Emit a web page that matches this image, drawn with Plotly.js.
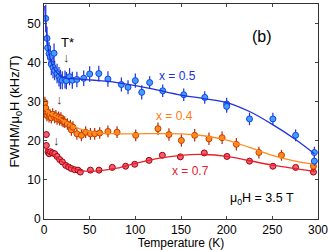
<!DOCTYPE html>
<html><head><meta charset="utf-8">
<script src="https://cdn.plot.ly/plotly-3.0.1.min.js"></script>
<style>html,body{margin:0;padding:0;background:#fff}#chart{width:332px;height:250px}</style>
</head><body><div id="chart"></div>
<script>
// x = 0.5 data
var tBlue = [1.9,3.3,4,5.5,7,8,9.9,11,11.7,14.3,16.4,17.9,20,23,24.5,28,31,36,43.5,50,60,70,84.7,92,100,107,115.7,130,153,176,200,200,225,250.6,275.5,296,296];
var vBlue = [51.3,46.2,43.8,42.3,41.5,39.6,38.8,42.4,38,37.2,36.4,35.7,35.5,35.7,35.4,36.4,35.5,35.7,36,37.1,37.2,35.8,34.4,33.7,35.4,32.4,34.9,32.8,31.8,31.1,29.4,28.8,25.6,25.6,21.4,17,14.8];
var eBlue = [3.5,3,3,3,2.8,2.8,2.8,2.5,2.5,2.5,2.5,2.5,2.3,2.3,2.2,2.2,2.2,2,2,2,2,2,1.8,1.8,1.8,1.8,1.6,1.6,1.6,1.6,1.6,1.6,1.6,1.6,1.5,1.5,1.2];
// x = 0.4 data
var tOrange = [1,1.9,2.5,3.3,4.5,5.5,6.5,8,9.5,11.7,13,14.3,16,17.2,18.5,19.7,21,22.7,25.6,28.9,30,31.7,36,41,45.6,50.8,55.5,61,70,80,100.4,124.8,136.8,150.4,165,180.6,195,210.6,235.3,260,295];
var vOrange = [29.8,28.4,27,26.5,27.2,26.2,26.6,25.9,26.8,26,26.4,25.6,26,25.4,25.8,25.2,25,24.8,24.3,23.9,22.8,23.5,21.8,21.4,22.2,21.8,21.8,22,22.4,22.2,21.4,23.1,21.6,20.1,21.4,20.5,20.8,19.1,17,16.3,13.5];
var eOrange = [1.5,1.5,1.5,1.5,1.5,1.5,1.5,1.5,1.5,1.5,1.5,1.5,1.5,1.5,1.5,1.5,1.5,1.5,1.5,1.5,1.5,1.5,1.5,1.5,1.5,1.5,1.5,1.5,1.5,1.5,1.5,1.6,1.6,1.6,1.6,1.6,1.6,1.6,1.5,1.4,1.2];
// x = 0.7 data
var tRed = [2.6,2.6,4.4,5.7,7,9.2,11.7,14.3,17.2,20.1,23.8,27,30,33.6,37.2,39.8,50.8,60.2,74.8,89.4,99.3,115,129.6,149.3,175.5,200.3,225,250.6,275.5,295];
var vRed = [21.6,18.8,17.1,16.7,17.2,16.9,16.7,16,15.2,14.6,13.7,13.3,12.9,12.6,12.5,12,12.5,12.5,13.2,13.5,14,15,16.3,15.9,16.9,16,14.8,13.5,13.2,12];
var eRed = [0.8,0.8,0.8,0.8,0.8,0.8,0.8,0.7,0.7,0.7,0.6,0.6,0.6,0.6,0.6,0.6,0.6,0.6,0.6,0.6,0.6,0.6,0.6,0.6,0.6,0.6,0.6,0.6,0.6,0.6];
// fit curves
var tFitBlue = [0.8,3,5,8,12,16,20,25,30,40,50,60,70,80,100,120,150,175,200,225,250,275,296];
var vFitBlue = [54.5,47,43,40,38,37,36.3,36,35.9,35.8,35.6,35.4,35.2,34.9,34.1,33.2,31.7,30.8,29.8,27.5,24.2,20.4,16.7];
var tFitOrange = [1,10,20,30,40,60,80,100,150,175,200,225,250,275,296];
var vFitOrange = [28,26.5,25.3,24,23,22,21.8,21.8,21.8,21.3,20.2,18.3,16.3,14.8,14];
var tFitRed = [1,10,20,30,40,50,60,80,100,125,150,175,200,225,250,275,296];
var vFitRed = [18,16.5,14.6,13.1,12.4,12.2,12.3,13,14.2,15.5,16.3,16.5,16,14.9,13.8,12.9,12.2];

var xTicks = [0,50,100,150,200,250,300];
var yTicks = [0,10,20,30,40,50];

function pts(x,y,e,fill,edge,bar){
  return {x:x,y:y,type:'scatter',mode:'markers',
    marker:{size:6,color:fill,line:{color:edge,width:1}},
    error_y:{type:'data',array:e,visible:true,color:bar,thickness:1.2,width:0},
    showlegend:false,hoverinfo:'skip'};
}
function fit(x,y,c){
  return {x:x,y:y,type:'scatter',mode:'lines',line:{color:c,width:1.3,shape:'spline'},showlegend:false,hoverinfo:'skip'};
}
var data = [
  pts(tRed,vRed,eRed,'#f0606e','#a00010','#a00010'),
  fit(tFitRed,vFitRed,'#e8202a'),
  pts(tOrange,vOrange,eOrange,'#ff8a1a','#c83a00','#b02a10'),
  fit(tFitOrange,vFitOrange,'#ff8a20'),
  pts(tBlue,vBlue,eBlue,'#3fa0ff','#1a40e0','#1a30e0'),
  fit(tFitBlue,vFitBlue,'#2030e0')
];
var fam = 'Liberation Sans, Arial, sans-serif';
var f = {family:fam,size:12,color:'#000'};
var ft = {family:fam,size:13,color:'#000'};
var layout = {
  width:332,height:250,
  margin:{l:44,r:14,t:4,b:31},
  paper_bgcolor:'#fff',plot_bgcolor:'#fff',
  font:f,
  xaxis:{range:[0,300],tickvals:xTicks,ticks:'inside',ticklen:3,showline:true,linecolor:'#333',mirror:'ticks',
    showgrid:false,zeroline:false,tickfont:f,
    title:{text:'Temperature (K)',font:f,standoff:2}},
  yaxis:{range:[0,55],tickvals:yTicks,ticks:'inside',ticklen:3,showline:true,linecolor:'#333',mirror:'ticks',
    showgrid:false,zeroline:false,tickfont:f,
    title:{text:'FWHM/μ<sub>0</sub>H (kHz/T)',font:ft,standoff:4}},
  annotations:[
    {x:239,y:46.8,text:'(b)',showarrow:false,font:{family:fam,size:16,color:'#000'}},
    {x:146,y:36.5,text:'x = 0.5',showarrow:false,font:{family:fam,size:12,color:'#2030e0'}},
    {x:143,y:26.4,text:'x = 0.4',showarrow:false,font:{family:fam,size:12,color:'#ff7a10'}},
    {x:160,y:12.4,text:'x = 0.7',showarrow:false,font:{family:fam,size:12,color:'#e8202a'}},
    {x:239,y:5.1,text:'μ<sub>0</sub>H = 3.5 T',showarrow:false,font:{family:fam,size:12.5,color:'#000'}},
    {x:26,y:45.2,text:'T*',showarrow:false,font:{family:fam,size:13,color:'#000'}},
    {x:25,y:41.3,text:'↓',showarrow:false,font:{family:fam,size:13,color:'#333'}},
    {x:17,y:30.5,text:'↓',showarrow:false,font:{family:fam,size:13,color:'#333'}},
    {x:14,y:20.1,text:'↓',showarrow:false,font:{family:fam,size:13,color:'#333'}}
  ]
};
Plotly.newPlot('chart',data,layout,{displayModeBar:false,staticPlot:true});
</script></body></html>
